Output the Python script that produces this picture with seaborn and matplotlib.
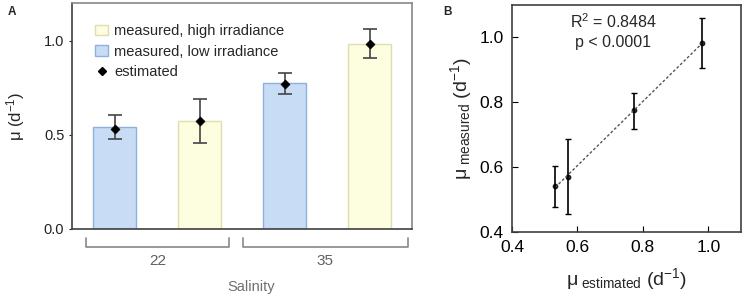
import numpy as np
import pandas as pd
import seaborn as sns
import matplotlib.pyplot as plt
from matplotlib.patches import Patch
from matplotlib.lines import Line2D

# Growth rates per salinity / irradiance treatment
bars = ["22 low", "22 high", "35 low", "35 high"]
salinity = ["22", "35"]
irradiance = ["low", "high", "low", "high"]
measured = [0.543, 0.571, 0.775, 0.982]
estimated = [0.532, 0.572, 0.772, 0.981]
err_low = [0.478, 0.456, 0.719, 0.907]
err_high = [0.605, 0.688, 0.828, 1.061]
r2_text = "R$^2$ = 0.8484"
p_text = "p < 0.0001"

sns.set_style("white")
plt.rcParams["font.family"] = ["Liberation Sans", "DejaVu Sans"]
plt.rcParams["mathtext.fontset"] = "custom"
plt.rcParams["mathtext.rm"] = "Liberation Sans"
plt.rcParams["mathtext.it"] = "Liberation Sans"

blue, blue_edge = "#c8dcf6", "#8db0dd"
yellow, yellow_edge = "#fdfde0", "#dedeb0"

df = pd.DataFrame({"bar": bars, "irr": irradiance, "mu": measured,
                   "est": estimated, "lo": err_low, "hi": err_high})

fig = plt.figure(figsize=(7.43, 3.0), dpi=100)
axA = fig.add_axes([72 / 743, 71 / 300, 340 / 743, 226 / 300])
axB = fig.add_axes([512 / 743, 68 / 300, 229 / 743, 227 / 300])

# ---------------- panel A ----------------
sns.barplot(data=df, x="bar", y="mu", hue="irr", order=bars,
            palette={"low": blue, "high": yellow}, dodge=False, saturation=1,
            width=0.5, legend=False, ax=axA)
# patches come grouped by hue, so pick the edge from the bar's x position
for patch in axA.patches:
    i = int(round(patch.get_x() + patch.get_width() / 2))
    patch.set_edgecolor(blue_edge if irradiance[i] == "low" else yellow_edge)
    patch.set_linewidth(1.0)

xpos = np.arange(len(bars))
est = np.array(estimated)
axA.errorbar(xpos, est, yerr=[est - np.array(err_low), np.array(err_high) - est],
             fmt="none", ecolor="#444444", elinewidth=1.2, capsize=5, capthick=1.2)
sns.scatterplot(x=xpos, y=est, marker="D", color="black", s=22,
                edgecolor="black", ax=axA, zorder=5)

axA.set_xlim(-0.5, 3.5)
axA.set_ylim(0, 1.2)
axA.set_yticks([0.0, 0.5, 1.0])
axA.set_yticklabels(["0.0", "0.5", "1.0"])
axA.set_xticks([])
axA.set_xlabel("")
axA.set_ylabel("μ (d$^{-1}$)", fontsize=12, labelpad=12)
axA.tick_params(axis="y", direction="out", length=2, width=0.8,
                labelsize=10.5, left=True, colors="#222222")
for side in ["left", "bottom"]:
    axA.spines[side].set_color("#404040")
    axA.spines[side].set_linewidth(1.2)
for side in ["top", "right"]:
    axA.spines[side].set_color("#888888")
    axA.spines[side].set_linewidth(1.2)

# salinity brackets below the axis
trans = axA.get_xaxis_transform()
spans = [(-0.34, 1.35), (1.51, 3.45)]
for (x0, x1), lab in zip(spans, salinity):
    axA.plot([x0, x0, x1, x1], [-0.04, -0.08, -0.08, -0.04], color="#888888",
             lw=1.2, transform=trans, clip_on=False)
    axA.text((x0 + x1) / 2, -0.11, lab, transform=trans, ha="center", va="top",
             fontsize=11, color="#606060")
axA.text(0.5 * (spans[0][0] + spans[1][1]) + 0.05, -0.225, "Salinity",
         transform=trans, ha="center", va="top", fontsize=10.5, color="#707070")

handles = [Patch(facecolor=yellow, edgecolor=yellow_edge, label="measured, high irradiance"),
           Patch(facecolor=blue, edgecolor=blue_edge, label="measured, low irradiance"),
           Line2D([], [], marker="D", color="black", ls="none", markersize=4,
                  label="estimated")]
axA.legend(handles=handles, loc="upper left", bbox_to_anchor=(0.03, 0.965),
           frameon=False, fontsize=10.5, handlelength=0.9, handleheight=0.7,
           handletextpad=0.4, labelspacing=0.45)

# ---------------- panel B ----------------
sns.regplot(data=df, x="est", y="mu", ci=None, truncate=True, ax=axB,
            scatter_kws={"s": 10, "color": "black"},
            line_kws={"color": "#555555", "lw": 1.0, "ls": (0, (2, 1.5))})
mu = np.array(measured)
axB.errorbar(df["est"], mu, yerr=[mu - np.array(err_low), np.array(err_high) - mu],
             fmt="none", ecolor="black", elinewidth=1.2, capsize=2.5, capthick=1.0)
axB.set_xlim(0.4, 1.1)
axB.set_ylim(0.4, 1.1)
axB.set_xticks([0.4, 0.6, 0.8, 1.0])
axB.set_yticks([0.4, 0.6, 0.8, 1.0])
axB.tick_params(direction="in", length=4, width=0.8, labelsize=12.5,
                left=True, bottom=True, colors="black", pad=6)
axB.set_xlabel("μ$_{\\ \\mathrm{estimated}}$ (d$^{-1}$)", fontsize=14, labelpad=8)
axB.set_ylabel("μ$_{\\ \\mathrm{measured}}$ (d$^{-1}$)", fontsize=14, labelpad=4)
for side in axB.spines.values():
    side.set_color("#404040")
    side.set_linewidth(1.2)
axB.text(0.71, 1.05, r2_text, ha="center", va="center", fontsize=11.5)
axB.text(0.71, 0.985, p_text, ha="center", va="center", fontsize=11.5)

fig.text(8 / 743, 1 - 12 / 300, "A", fontsize=8.5, fontweight="bold", va="center")
fig.text(443 / 743, 1 - 12 / 300, "B", fontsize=8.5, fontweight="bold", va="center")

fig.savefig("out.png", dpi=100)
